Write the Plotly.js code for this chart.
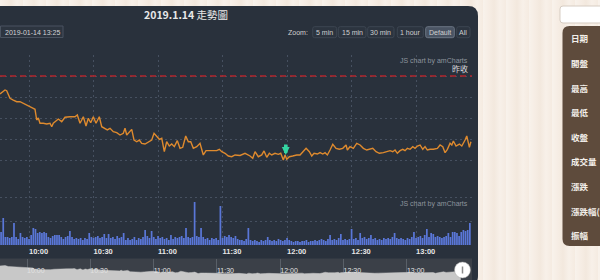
<!DOCTYPE html>
<html><head><meta charset="utf-8">
<script src="https://cdn.plot.ly/plotly-3.0.1.min.js"></script>
<style>
html,body{margin:0;padding:0;width:600px;height:280px;overflow:hidden;background:#f6ede4;}
body{background-image:repeating-linear-gradient(90deg,rgba(255,255,255,0.28) 0px,rgba(255,255,255,0) 6px,rgba(214,190,165,0.10) 11px,rgba(255,255,255,0.18) 17px,rgba(230,210,190,0.08) 23px);}
#chart{width:600px;height:280px;}
</style></head><body><div id="chart"></div>
<script>
// ---------------- data ----------------
const DAY = '2019-01-14 ';
const titleDate = '2019.1.14';
const titleText = '走勢圖';
const lastTime = '2019-01-14 13:25';
const prevClose = 9720;
const prevCloseLabel = '昨收';
const creditText = 'JS chart by amCharts';

const priceTimes = ["09:46:30","09:48:50","09:49:37","09:51:09","09:52:41","09:54:16","09:55:48","09:57:20","09:58:55","10:00:27",
"10:01:59","10:02:47","10:03:34","10:04:19","10:05:06","10:06:38","10:08:13","10:09:45","10:10:33","10:11:17",
"10:12:52","10:13:37","10:15:12","10:16:44","10:19:03","10:21:23","10:22:27","10:23:43","10:24:30","10:25:15",
"10:26:30","10:27:34","10:28:41","10:29:54","10:31:09","10:32:41","10:33:48","10:35:20","10:36:24","10:37:40",
"10:39:12","10:40:47","10:42:19","10:43:51","10:44:38","10:45:26","10:46:38","10:47:45","10:48:50","10:50:05",
"10:51:17","10:52:24","10:53:57","10:55:29","10:57:03","10:58:08","10:59:23","11:00:36","11:01:43","11:02:55",
"11:04:02","11:05:14","11:06:22","11:07:34","11:08:58","11:10:13","11:11:29","11:12:52","11:14:05","11:15:12",
"11:16:24","11:17:59","11:19:31","11:21:03","11:22:19","11:24:10","11:25:43","11:27:17","11:28:30","11:29:37",
"11:31:09","11:32:41","11:34:16","11:35:48","11:38:08","11:40:27","11:42:47","11:44:02","11:45:06","11:46:38",
"11:48:13","11:49:17","11:50:33","11:51:45","11:52:52","11:54:24","11:55:57","11:57:03","11:58:16","11:59:03",
"11:59:51","12:01:03","12:02:38","12:04:30","12:06:02","12:07:34","12:08:50","12:10:22","12:11:29","12:12:33",
"12:14:05","12:15:20","12:16:36","12:17:40","12:18:44","12:19:59","12:21:15","12:22:47","12:24:19","12:25:54",
"12:27:26","12:28:02","12:29:17","12:30:49","12:32:24","12:33:57","12:35:29","12:37:03","12:38:35","12:39:51",
"12:41:23","12:42:55","12:44:47","12:46:22","12:47:54","12:49:09","12:50:13","12:51:17","12:52:33","12:53:48",
"12:54:52","12:55:57","12:57:12","12:58:27","12:59:31","13:00:36","13:01:51","13:03:06","13:04:10","13:05:14",
"13:06:30","13:08:02","13:09:54","13:11:09","13:12:24","13:13:29","13:14:33","13:15:48","13:16:36","13:17:20",
"13:18:35","13:20:08","13:21:15","13:22:47","13:23:34","13:24:47","13:25:30"];

const prices = [9702.9,9706.7,9706.0,9698.8,9697.1,9695.5,9695.5,9694.0,9692.4,9691.4,
9689.2,9688.3,9678.1,9680.0,9675.0,9675.0,9674.3,9675.0,9671.7,9675.0,
9678.1,9679.0,9676.5,9680.7,9681.2,9681.2,9682.9,9675.0,9678.1,9681.2,
9672.4,9679.7,9675.5,9681.2,9675.0,9681.2,9671.7,9670.2,9668.6,9670.2,
9667.0,9666.0,9663.8,9665.4,9670.2,9663.8,9667.0,9669.2,9659.0,9657.4,
9659.0,9655.9,9655.2,9657.4,9659.0,9665.4,9662.2,9659.7,9660.7,9647.9,
9657.4,9653.3,9655.2,9652.7,9658.4,9651.1,9652.1,9662.9,9657.4,9657.4,
9651.1,9652.7,9655.9,9644.8,9648.9,9648.9,9649.5,9648.9,9650.2,9647.9,
9646.4,9643.8,9643.1,9644.8,9644.3,9646.4,9643.8,9641.6,9647.9,9643.1,
9644.8,9648.6,9642.6,9646.4,9644.8,9646.4,9645.4,9646.4,9640.0,9644.8,
9640.7,9643.1,9643.8,9644.8,9644.8,9647.9,9651.1,9647.9,9643.8,9646.4,
9645.7,9647.0,9645.7,9647.0,9644.8,9649.5,9655.0,9651.1,9650.2,9651.1,
9654.3,9649.5,9652.7,9651.1,9655.9,9654.3,9651.1,9649.5,9650.2,9651.1,
9647.9,9646.4,9647.0,9647.9,9648.9,9647.9,9649.5,9646.4,9648.9,9650.2,
9648.9,9651.1,9650.2,9652.7,9651.1,9653.3,9654.3,9650.2,9652.7,9649.5,
9650.2,9650.2,9651.1,9654.3,9652.7,9647.0,9650.2,9655.9,9654.3,9658.1,
9653.3,9655.2,9653.3,9659.0,9662.9,9652.1,9657.4];

// one volume bar per minute, starting at this minute
const volStart = '09:47';
const volumes = [3250,6750,2000,2000,1750,2000,5500,2000,1500,3000,
2000,1750,2000,1500,2500,4250,4000,3000,3250,3000,
3250,3000,2000,1750,2250,2500,2500,2500,2000,1500,
2000,2250,3500,2000,1500,1750,1500,1750,1250,1750,
1500,3000,2000,1750,2000,2250,1750,2000,2750,1750,
2750,1750,2000,1500,2250,1750,2000,3000,1250,1750,
1250,1500,2000,1250,1750,1500,2000,3750,2250,1750,
3500,2000,1500,2250,1750,2000,1500,1750,1250,2500,
1500,2000,1750,2000,2250,1750,4250,2000,1750,2000,
10750,2250,2000,4250,2000,1500,1750,1250,1750,1500,
1750,1250,9750,1750,2250,2000,2500,2000,1750,2250,
1500,1250,1250,1000,1500,4250,1250,1000,1250,1000,
750,1250,1000,1250,2000,1250,1000,1250,1000,1500,
1250,1000,1250,1750,1250,1000,750,1000,1000,750,
1000,1000,1250,750,1000,1000,1250,1000,1250,1500,
1250,1000,1500,2500,1250,1500,1250,1750,2750,1250,
1500,1250,1500,4000,1500,1750,1250,3000,1750,2000,
1500,1750,2500,1500,1750,1250,1500,1250,1750,1500,
1750,1500,2000,3000,1750,1500,1750,1500,1250,1750,
1500,2000,3250,1750,2000,2250,1750,2500,4000,2000,
3000,2750,2000,2250,2000,1750,2000,2250,3000,2000,
3250,3250,3000,2250,3250,3750,3500,3750,5500];

const tickLabels = ['10:00','10:30','11:00','11:30','12:00','12:30','13:00'];
const eventTimes = ['11:59:23'];
const eventPrices = [9644.8];
const zoomLabel = 'Zoom:';
const zoomButtons = ['5 min','15 min','30 min','1 hour','Default','All'];
const sideLabels = ['日期','開盤','最高','最低','收盤','成交量','漲跌','漲跌幅(%)','振幅'];

// ---------------- helpers ----------------
const W = 600, H = 280;
const X = p => p / W;
const Y = p => 1 - p / H;
const pad = n => String(n).padStart(2, '0');
function addMin(hhmm, i) {
  const [h, m] = hhmm.split(':').map(Number);
  const t = h * 60 + m + i;
  return DAY + pad(Math.floor(t / 60)) + ':' + pad(t % 60);
}
function rrect(x0, y0, x1, y1, r) {
  const p = (x, y) => X(x).toFixed(5) + ',' + Y(y).toFixed(5);
  return 'M' + p(x0 + r[0], y0) + ' L' + p(x1 - r[1], y0) + ' Q' + p(x1, y0) + ' ' + p(x1, y0 + r[1]) +
    ' L' + p(x1, y1 - r[2]) + ' Q' + p(x1, y1) + ' ' + p(x1 - r[2], y1) +
    ' L' + p(x0 + r[3], y1) + ' Q' + p(x0, y1) + ' ' + p(x0, y1 - r[3]) +
    ' L' + p(x0, y0 + r[0]) + ' Q' + p(x0, y0) + ' ' + p(x0 + r[0], y0) + ' Z';
}

const pTimes = priceTimes.map(t => DAY + t);
const vTimes = volumes.map((v, i) => addMin(volStart, i));
const tickVals = tickLabels.map(t => DAY + t);

const LATIN = 'Liberation Sans, Arial, sans-serif';
const CJK = 'Noto Sans CJK TC, Noto Sans CJK SC, sans-serif';
const GRID = '#465060';
const DOT = '2px,3px';

const traces = [
  { type: 'scatter', mode: 'lines', x: pTimes, y: prices, xaxis: 'x', yaxis: 'y',
    line: { color: '#de8a2e', width: 1.4 }, hoverinfo: 'skip' },
  { type: 'bar', x: vTimes, y: volumes, xaxis: 'x2', yaxis: 'y2',
    marker: { color: '#5a77d8', line: { width: 0 } }, hoverinfo: 'skip' },
  { type: 'scatter', mode: 'lines', x: pTimes, y: prices, xaxis: 'x3', yaxis: 'y3',
    fill: 'tozeroy', fillcolor: '#c8c8c8', line: { color: '#c8c8c8', width: 0.5 }, hoverinfo: 'skip' }
];

const shapes = [
  { type: 'path', xref: 'paper', yref: 'paper', layer: 'below', path: rrect(-12, 6, 478, 286, [0, 10, 10, 0]),
    fillcolor: '#29313c', line: { width: 0 } },
  { type: 'rect', xref: 'paper', yref: 'paper', layer: 'below', x0: X(0), x1: X(472), y0: Y(280), y1: Y(258.5),
    fillcolor: '#3b4048', line: { width: 0 } },
  { type: 'rect', xref: 'paper', yref: 'paper', x0: X(0.5), x1: X(63), y0: Y(37.5), y1: Y(26),
    fillcolor: '#2d3540', line: { color: '#4a5360', width: 1 } },
  { type: 'line', xref: 'paper', yref: 'y', x0: 0, x1: X(472), y0: prevClose, y1: prevClose,
    line: { color: '#b3262c', width: 1.5, dash: '6px,4px' } },
  { type: 'path', xref: 'paper', yref: 'paper', path: rrect(560, 6, 608, 23, [3, 3, 3, 3]),
    fillcolor: '#ffffff', line: { color: '#d6ccc2', width: 1 } },
  { type: 'path', xref: 'paper', yref: 'paper', path: rrect(562.5, 26, 610, 246, [7, 0, 0, 7]),
    fillcolor: '#5e4b3c', line: { width: 0 } },
  { type: 'circle', xref: 'paper', yref: 'paper', x0: X(454.5), x1: X(470.5), y0: Y(278), y1: Y(262),
    fillcolor: '#ffffff', line: { color: '#a0a0a0', width: 0.5 } },
  { type: 'line', xref: 'paper', yref: 'paper', x0: X(462.5), x1: X(462.5), y0: Y(273.5), y1: Y(266.5),
    line: { color: '#8a8a8a', width: 1.5 } }
];

const btnX = [[312.7, 336.7], [338.3, 366], [367.7, 394], [397.3, 423.3], [425.7, 454.3], [456.7, 470]];
zoomButtons.forEach((b, i) => {
  const on = b === 'Default';
  shapes.push({ type: 'path', xref: 'paper', yref: 'paper', path: rrect(btnX[i][0], 26.7, btnX[i][1], 37.7, [2, 2, 2, 2]),
    fillcolor: on ? '#4a5463' : '#2c343f', line: { color: on ? '#6b7583' : '#3d4652', width: 1 } });
});

function note(x, y, text, font, xa, ya, extra) {
  return Object.assign({ xref: 'paper', yref: 'paper', x: X(x), y: Y(y), text: text, showarrow: false,
    xanchor: xa || 'center', yanchor: ya || 'middle', font: font }, extra || {});
}

const annotations = [
  note(186, 14, '<b>' + titleDate + '</b> ' + titleText, { family: CJK, size: 10.5, color: '#e8e8e8' }),
  note(32, 32, lastTime, { family: LATIN, size: 7, color: '#d4d4d4' }),
  note(310, 32.2, zoomLabel, { family: LATIN, size: 7, color: '#d0d0d0' }, 'right'),
  note(470, 61, creditText, { family: LATIN, size: 7, color: '#8d949d' }, 'right'),
  note(470, 204, creditText, { family: LATIN, size: 7, color: '#8d949d' }, 'right'),
  { xref: 'paper', yref: 'y', x: X(469.5), y: prevClose, yshift: 0, xanchor: 'right', yanchor: 'bottom',
    text: prevCloseLabel, showarrow: false, font: { family: CJK, size: 8, color: '#dcdcdc' } }
];
zoomButtons.forEach((b, i) => {
  annotations.push(note((btnX[i][0] + btnX[i][1]) / 2, 32.2, b, { family: LATIN, size: 7, color: '#cfcfcf' }));
});
sideLabels.forEach((s, i) => {
  annotations.push(note(568.5, 38.3 + i * 24.6, '<b>' + s + '</b>', { family: CJK, size: 8.5, color: '#f3efea' }, 'left'));
});
eventTimes.forEach((t, i) => {
  annotations.push({ xref: 'x', yref: 'y', x: DAY + t, y: eventPrices[i], text: '', showarrow: true,
    ax: 0, ay: -12, arrowcolor: '#34d5a2', arrowwidth: 3.5, arrowhead: 2, arrowsize: 0.45, standoff: 0 });
});

const xCommon = { type: 'date', tickvals: tickVals, ticktext: tickLabels, showgrid: true, gridcolor: GRID,
  griddash: DOT, gridwidth: 1, zeroline: false, showline: false, ticks: '', fixedrange: true };

const layout = {
  width: W, height: H, margin: { l: 0, r: 0, t: 0, b: 0, pad: 0 },
  paper_bgcolor: 'rgba(0,0,0,0)', plot_bgcolor: 'rgba(0,0,0,0)',
  showlegend: false, bargap: 0.2, font: { family: LATIN },
  xaxis: Object.assign({}, xCommon, { anchor: 'y', domain: [0, X(472)],
    range: [DAY + '09:46:30', DAY + '13:26:00'], showticklabels: false }),
  yaxis: { anchor: 'x', domain: [Y(181), Y(55)], range: [9620, 9740], tick0: 9620, dtick: 20,
    showticklabels: false, showgrid: true, gridcolor: GRID, griddash: DOT, zeroline: false, fixedrange: true },
  xaxis2: Object.assign({}, xCommon, { anchor: 'y2', domain: [0, X(472)], matches: 'x',
    showticklabels: true, ticklabelposition: 'outside right',
    tickfont: { family: LATIN, size: 7.5, color: '#e6e6e6', weight: 'bold' } }),
  yaxis2: { anchor: 'x2', domain: [Y(245), Y(181)], range: [0, 16000], tick0: 0, dtick: 6000,
    showticklabels: false, showgrid: true, gridcolor: GRID, griddash: DOT, zeroline: false, fixedrange: true },
  xaxis3: Object.assign({}, xCommon, { anchor: 'y3', domain: [0, X(472)],
    range: [DAY + '09:47:12', DAY + '13:30:50'], griddash: 'solid', gridcolor: '#5a6068',
    showticklabels: true, ticklabelposition: 'inside right',
    tickfont: { family: LATIN, size: 7, color: '#e2e2e2' } }),
  yaxis3: { anchor: 'x3', domain: [0, Y(258.5)], range: [9595, 9761], showticklabels: false,
    showgrid: false, zeroline: false, fixedrange: true },
  shapes: shapes,
  annotations: annotations
};

Plotly.newPlot('chart', traces, layout, { staticPlot: true, displayModeBar: false });
</script></body></html>
